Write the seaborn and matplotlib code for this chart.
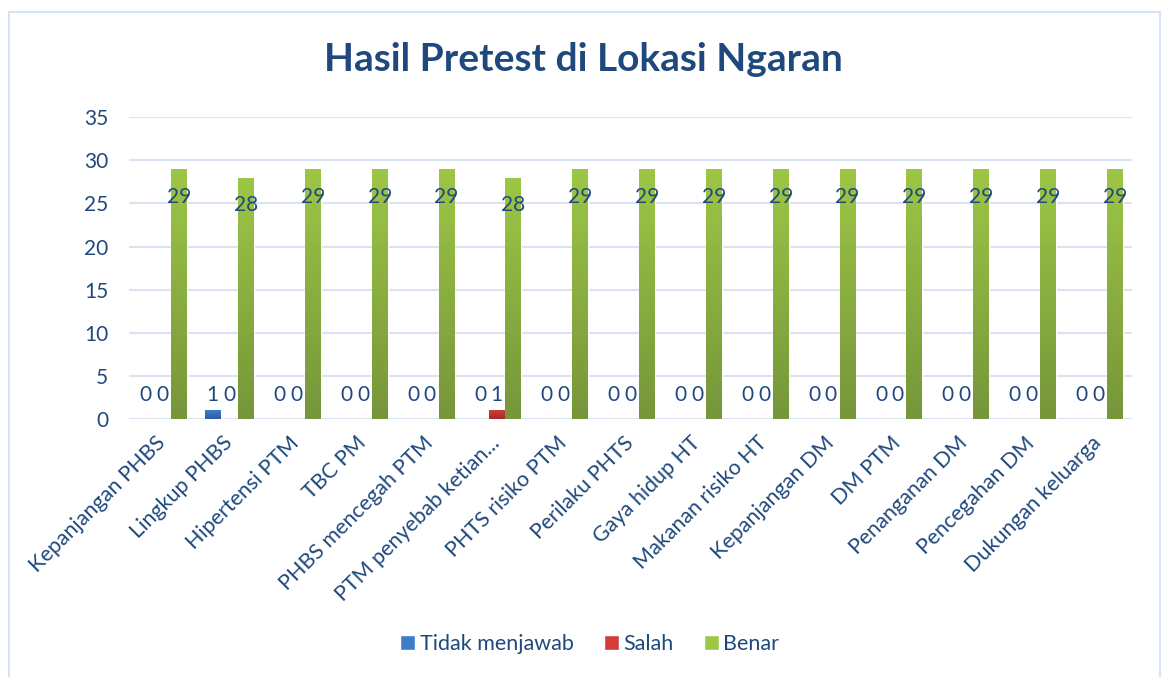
import matplotlib.pyplot as plt
import matplotlib.colors as mcolors
import numpy as np
import pandas as pd
import seaborn as sns
from matplotlib.patches import Rectangle

categories = [
    "Kepanjangan PHBS",
    "Lingkup PHBS",
    "Hipertensi PTM",
    "TBC PM",
    "PHBS mencegah PTM",
    "PTM penyebab ketian...",
    "PHTS risiko PTM",
    "Perilaku PHTS",
    "Gaya hidup HT",
    "Makanan risiko HT",
    "Kepanjangan DM",
    "DM PTM",
    "Penanganan DM",
    "Pencegahan DM",
    "Dukungan keluarga",
]
tidak_menjawab = [0, 1, 0, 0, 0, 0, 0, 0, 0, 0, 0, 0, 0, 0, 0]
salah = [0, 0, 0, 0, 0, 1, 0, 0, 0, 0, 0, 0, 0, 0, 0]
benar = [29, 28, 29, 29, 29, 28, 29, 29, 29, 29, 29, 29, 29, 29, 29]
series_names = ["Tidak menjawab", "Salah", "Benar"]

text_color = "#1F497D"
grid_color = "#D9E3F1"
# top / bottom of each gradient fill
gradients = {
    "Tidak menjawab": ("#3D7DCC", "#2D5F9E"),
    "Salah": ("#D23C3A", "#A52A2A"),
    "Benar": ("#9DC646", "#76963A"),
}

df = pd.DataFrame({
    "kategori": categories * 3,
    "seri": np.repeat(series_names, len(categories)),
    "nilai": tidak_menjawab + salah + benar,
})

sns.set_style("white")
plt.rcParams["font.family"] = ["Lato", "DejaVu Sans"]

fig = plt.figure(figsize=(11.63, 6.77), dpi=100)
ax = fig.add_axes([0.111, 0.381, 0.862, 0.446])

palette = {k: v[1] for k, v in gradients.items()}
sns.barplot(
    data=df, x="kategori", y="nilai", hue="seri", hue_order=series_names,
    palette=palette, width=0.75, gap=0.05, legend=False, ax=ax,
    saturation=1, errorbar=None,
)

# gradient fill inside each bar
for name, container in zip(series_names, ax.containers):
    top, bot = gradients[name]
    cmap = mcolors.LinearSegmentedColormap.from_list(name, [bot, top])
    grad = np.linspace(0, 1, 64).reshape(-1, 1)
    for bar in container:
        h = bar.get_height()
        if h <= 0:
            continue
        x0 = bar.get_x()
        w = bar.get_width()
        im = ax.imshow(grad, cmap=cmap, origin="lower", aspect="auto",
                       extent=(x0, x0 + w, 0, h), zorder=3)
        im.set_clip_path(bar)

# data labels
for name, container in zip(series_names, ax.containers):
    for bar in container:
        xc = bar.get_x() + bar.get_width() / 2
        h = bar.get_height()
        if name == "Benar":
            ax.annotate(f"{h:.0f}", (xc, h), xytext=(0, -20),
                        textcoords="offset points", ha="center", va="center",
                        fontsize=15, color=text_color, zorder=5)
        else:
            ax.text(xc, 2.8, f"{h:.0f}", ha="center", va="center",
                    fontsize=15, color=text_color, zorder=5)

ax.set_xlim(-0.5, len(categories) - 0.5)
ax.set_ylim(0, 35)
ax.set_yticks(np.arange(0, 36, 5))
ax.yaxis.grid(True, color=grid_color, linewidth=1.5)
ax.set_axisbelow(True)
for s in ax.spines.values():
    s.set_visible(False)
ax.set_xlabel("")
ax.set_ylabel("")
ax.tick_params(axis="y", length=0, pad=15, labelsize=15, labelcolor=text_color)
ax.tick_params(axis="x", length=0, pad=15, labelsize=15.5, labelcolor=text_color)
for lbl in ax.get_xticklabels():
    lbl.set_rotation(45)
    lbl.set_ha("right")
    lbl.set_va("center")
    lbl.set_rotation_mode("anchor")

fig.suptitle("Hasil Pretest di Lokasi Ngaran", x=0.502, y=0.912, va="center",
             fontsize=28, fontweight="bold", color=text_color)

handles = [Rectangle((0, 0), 1, 1, facecolor=gradients[n][0]) for n in series_names]
fig.legend(handles, series_names, loc="center", bbox_to_anchor=(0.507, 0.049),
           ncol=3, frameon=False, handlelength=0.7, handleheight=0.7,
           handletextpad=0.2, columnspacing=1.4, fontsize=15.5,
           labelcolor=text_color)

fig.patches.append(Rectangle((9 / 1163, -0.01), 1151 / 1163, 1 - 12 / 677 + 0.01,
                             transform=fig.transFigure, fill=False,
                             edgecolor="#D6E3F3", linewidth=1.5))

fig.savefig("out.png", dpi=100)
